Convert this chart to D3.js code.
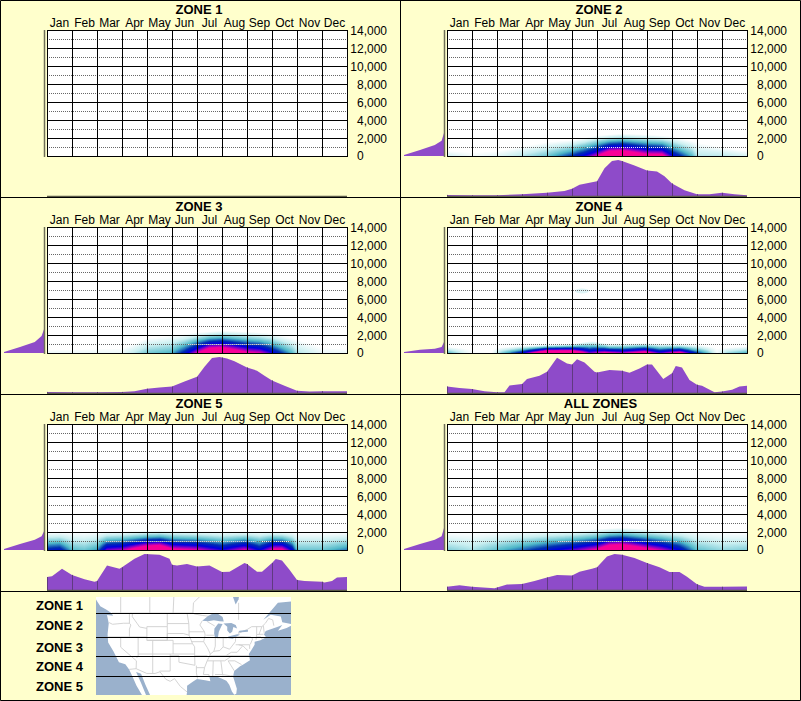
<!DOCTYPE html>
<html>
<head>
<meta charset="utf-8">
<script src="https://cdn.jsdelivr.net/npm/d3@7"></script>
<style>
  body { margin: 0; background: #ffffcc; }
  text { font-family: "Liberation Sans", Arial, sans-serif; font-size: 12px; fill: #000; }
  .title { font-size: 13px; font-weight: bold; }
</style>
</head>
<body>
<div id="chart"></div>
<script>
const months = ["Jan","Feb","Mar","Apr","May","Jun","Jul","Aug","Sep","Oct","Nov","Dec"];
const yTicks = [0,2000,4000,6000,8000,10000,12000,14000];
const dotTicks = [1000,3000,5000,7000,9000,11000,13000];
const zoneNames = ["ZONE 1","ZONE 2","ZONE 3","ZONE 4","ZONE 5"];

// bottom curves: [month position, percent of the peak]
const curve2 = [[0,3],[1,2],[2,2],[3,5],[4,9],[4.7,14],[5,20],[5.3,31],[6,41],[6.3,77],[6.6,97],[6.85,100],[7,97],[7.5,85],[8,71],[8.4,68],[8.7,55],[9,35],[9.5,16],[10,5],[10.5,5],[11,9],[11.5,5],[12,2]];
const curve3 = [[0,3],[1,2],[2,2],[3,3],[3.5,5],[4,12],[4.5,15],[5,18],[5.5,32],[6,45],[6.3,73],[6.6,97],[6.9,100],[7.2,96],[7.5,88],[8,71],[8.4,62],[8.7,48],[9,35],[9.5,20],[10,6],[10.5,4],[11,5],[12,5]];
const curve4 = [[0,18],[0.5,14],[1,11],[1.5,5],[2,2],[2.3,2],[2.5,21],[3,25],[3.2,39],[3.7,48],[4,59],[4.4,98],[4.8,82],[5,79],[5.2,94],[5.5,85],[5.9,59],[6,57],[6.5,64],[7,62],[7.3,56],[7.7,68],[8,79],[8.2,79],[8.65,39],[9,55],[9.15,75],[9.4,71],[9.7,36],[10,23],[10.2,20],[10.7,2],[11,4],[11.4,9],[11.7,18],[12,20]];
const curve5 = [[0,36],[0.2,38],[0.6,59],[1,42],[1.5,30],[1.9,23],[2,25],[2.4,68],[2.9,59],[3,63],[3.5,87],[3.9,100],[4.5,98],[4.9,87],[5,70],[5.2,68],[5.6,72],[6,65],[6.5,68],[7,50],[7.3,51],[7.9,75],[8,72],[8.4,51],[8.6,51],[9,75],[9.15,86],[9.4,82],[9.7,56],[10,28],[10.3,25],[11,23],[11.1,21],[11.4,25],[11.6,35],[12,36]];
const curveAll = [[0,9],[0.5,13],[1,9],[1.9,5],[2.4,15],[3,17],[3.5,25],[4,35],[4.4,42],[5,40],[5.3,51],[5.8,59],[6,63],[6.4,93],[6.7,100],[7,98],[7.5,89],[8,75],[8.5,63],[8.9,50],[9.3,50],[9.6,37],[10,16],[10.3,9],[11,9],[12,10]];

// left profiles: [elevation, percent of the widest]
const profile2 = [[0,100],[100,100],[666,60],[1220,23],[1700,6],[2550,0]];
const profile3 = [[0,100],[100,100],[666,60],[1220,23],[1900,6],[2650,0]];
const profile4 = [[0,100],[100,100],[370,60],[480,23],[666,6],[1220,0]];
const profile5 = [[0,100],[100,100],[666,60],[1150,23],[1520,6],[2070,0]];
const profileAll = [[0,100],[100,100],[666,60],[1150,23],[1520,6],[2450,0]];

// density: how high the colour reaches per month, and its strength at the ground
const top2 = [[0,600],[1,500],[2,600],[3,1100],[4,1600],[5,1800],[6,2300],[7,2500],[8,2400],[9,2200],[10,1600],[11,1000],[12,600]];
const peak2 = [[0,.16],[1,.05],[2,.1],[3,.22],[4,.35],[5,.6],[5.5,.75],[6,.95],[6.5,1.25],[7,1.28],[8,1.05],[8.6,1.05],[9,.75],[9.8,.4],[10,.22],[11,.22],[12,.14]];
const top3 = [[0,400],[3,600],[3.5,1100],[4,1700],[5,2000],[6,2300],[7,2500],[8,2400],[9,2200],[10,1600],[11,700],[12,500]];
const peak3 = [[0,.08],[3,.08],[4,.34],[5,.42],[5.5,.65],[6,.95],[6.5,1.25],[7,1.28],[8,1],[8.5,.95],[9,.75],[9.8,.4],[10,.24],[11,.08],[12,.08]];
const top4 = [[0,700],[1,500],[2,600],[3,800],[4,900],[5,1000],[5.8,1350],[6.5,1000],[7.9,1100],[8.8,1000],[10,900],[11,600],[12,750]];
const peak4 = [[0,.42],[.7,.12],[1,.03],[1.8,.02],[2.2,.32],[3,.7],[4,1.35],[5,1.3],[5.7,.85],[6.3,1],[7,.9],[7.9,1.1],[8.5,.8],[9.3,1.05],[9.8,.7],[10.4,.38],[10.8,.05],[11.2,.26],[12,.42]];
const top5 = [[0,2000],[3,2100],[4.5,2200],[7,2100],[9,2100],[10,2000],[12,2000]];
const peak5 = [[0,.64],[.5,.68],[1,.4],[1.5,.36],[2,.46],[2.4,.85],[3,.9],[4,1.22],[4.5,1.27],[5,1.02],[6,.96],[7,.76],[7.9,.96],[8.5,.72],[9.1,1.02],[9.4,1.02],[9.8,.72],[10,.36],[11,.36],[12,.5]];
const topAll = [[0,2000],[5,2200],[7,2500],[9,2200],[12,2000]];
const peakAll = [[0,.32],[1,.24],[2,.38],[3,.52],[4,.68],[5,.82],[6,1],[6.5,1.25],[7,1.28],[8,1.05],[8.6,.92],[9.3,.72],[10,.38],[11,.28],[12,.32]];

// small faint patch high up in zone 4: month, elevation
const patch4 = [[5.4,6900]];

const colorStops = [0,.18,.4,.58,.72,.84,.95,1];
const colorValues = ["#ffffff","#c8eef0","#50b8c8","#0030b0","#0000e0","#8000c8","#f000a0","#ff0090"];

// map outlines, lon/lat
const land = [[-130,55],[-127,51],[-125,50],[-123.2,49],[-122.6,48.2],[-124.7,48.4],[-124.1,46],[-124.5,42.8],[-124.3,40.4],[-122.5,37.8],[-120.6,34.6],[-118.4,34],[-117.1,32.5],[-116,30.5],[-114.6,27.8],[-112.7,25],[-110.5,22.9],[-111.3,25],[-113,28.5],[-114.7,31.7],[-113,31.2],[-111.5,28],[-109.9,25],[-106,22.5],[-105,20],[-95,16],[-90,18],[-97.8,22],[-97.2,26],[-97.2,27.7],[-95,29],[-93.8,29.7],[-91,29.3],[-89.2,29],[-89.5,30.3],[-87,30.4],[-85,29.7],[-83.7,29.2],[-82.7,28],[-81.8,26],[-81,25.1],[-80.3,25.4],[-80.1,26.8],[-81.4,30.4],[-81,32],[-79,33.4],[-77.9,33.9],[-75.6,35.2],[-76,37],[-75.2,38],[-74,39.7],[-74,40.6],[-72,41],[-70.7,41.6],[-70,41.8],[-70.8,42.7],[-70.2,43.7],[-68,44.4],[-66,45],[-64.5,45.5],[-66,43.8],[-63,44.6],[-60,46],[-61.5,45.8],[-64.5,46.3],[-65,48],[-68.5,48.5],[-71,47],[-66,52],[-60,52.5],[-56,53],[-60,56],[-65,60],[-130,60]];
const lakes = [
  [[-82,55],[-80.5,51.5],[-79.5,53],[-79,56]],
  [[-92,46.7],[-90,46.6],[-88,46.9],[-86,46.6],[-84.6,46.5],[-85,47.8],[-86.5,48.7],[-88.5,48.8],[-90,48.1]],
  [[-87.6,41.7],[-86.6,41.8],[-86.3,43.5],[-85.5,45],[-85,45.8],[-86.5,45.9],[-87.8,44.5],[-87.9,43]],
  [[-84.7,45.9],[-83.4,45],[-83.4,43.9],[-82.5,43],[-81.7,43.5],[-81.3,44.9],[-80,44.5],[-80.5,45.5],[-82,46.1]],
  [[-83.4,41.7],[-81.5,41.5],[-79,42.7],[-80,42.8],[-83,42.1]],
  [[-79.7,43.3],[-76.3,43.5],[-76.3,44.1],[-79.2,43.8]]
];
const borders = [
  [[-123,49],[-116,49],[-110,49],[-104,49],[-95.2,49],[-94.6,48.7],[-92,48.3],[-89.5,48]],
  [[-79.7,43],[-76.5,44.2],[-75,45],[-71.5,45],[-70.3,46],[-69.2,47.4],[-67.8,47],[-67.4,45.3]],
  [[-117.1,32.5],[-114.7,32.7],[-111,31.3],[-108.2,31.3],[-106.5,31.8],[-104.5,29.6],[-103,29],[-101.5,29.8],[-99.5,27.5],[-97.2,25.9]],
  [[-110,49],[-110,60]],[[-102,49],[-101.4,60]],[[-120,49],[-120,60]],[[-95.2,49],[-95,52],[-89,57]],[[-79.5,47],[-79.5,52]],
  [[-124,46.2],[-122.8,45.7],[-119,46],[-117,46]],[[-117,49],[-117,46],[-116.5,45.5],[-117,44.3],[-117,42]],
  [[-124.3,42],[-120,42],[-114,42],[-111,42]],[[-120,42],[-120,39],[-114.6,35],[-114.7,32.7]],[[-114,42],[-114,36.2],[-114.6,36]],
  [[-116,49],[-116,47.9],[-114.4,46],[-113.5,44.9],[-111,44.5]],[[-111,45],[-104,45]],[[-111,45],[-111,41],[-104,41],[-104,45]],
  [[-111,41],[-109,41],[-109,37]],[[-114,37],[-109,37],[-103,37],[-94.6,37]],[[-109,41],[-102,41],[-102,37]],[[-109,37],[-109,31.3]],
  [[-103,37],[-103,32],[-106.6,32]],[[-103,36.5],[-100,36.5],[-100,34.6],[-94.5,33.7]],[[-94.6,37],[-94.5,33.7]],[[-94,33.6],[-94,31.5],[-93.6,29.8]],
  [[-94,33],[-91.2,33]],[[-104,49],[-104,45]],[[-104,45.9],[-96.6,45.9]],[[-104,43],[-98.5,43],[-96.5,42.5]],[[-104,43],[-104,41]],[[-102,40],[-95.3,40]],
  [[-94.6,39.1],[-94.6,37]],[[-96.6,45.9],[-96.5,42.5],[-95.3,40],[-94.6,39.1]],[[-97.2,49],[-96.6,45.9]],[[-96.5,43.5],[-91.2,43.5]],[[-95.8,40.6],[-91.5,40.6]],
  [[-92,46.7],[-92.8,45.5],[-91.2,43.5],[-91,42.5],[-91.5,40.6],[-90.2,38.8],[-89.2,37],[-89.7,36],[-90.3,35],[-91.2,33],[-91.6,31],[-89.7,31],[-89.6,30.2]],
  [[-94.6,36.5],[-90.2,36.5]],[[-90.6,42.5],[-87.8,42.5]],[[-90.3,46.5],[-87.7,45.2]],[[-87.5,41.7],[-87.5,39.3],[-88,37.8]],[[-84.8,41.7],[-84.8,39.1]],[[-87,41.7],[-83.4,41.7]],
  [[-89.2,37],[-88,37.8],[-86,38],[-84.8,39.1],[-82.6,38.4],[-80.6,40.6],[-80.5,42]],[[-80.5,42.2],[-75.3,42],[-74.7,41.4],[-75.5,39.8]],[[-80.5,39.7],[-75.7,39.7]],[[-75.7,38.5],[-75.7,39.7]],
  [[-79.5,39.7],[-78,39.4],[-77,38.5],[-76.3,38]],[[-82,37.5],[-80,37.5],[-78.2,39.3]],[[-89.5,36.5],[-75.9,36.5]],[[-83.7,36.6],[-82,37.5]],[[-90.3,35],[-84.3,35]],[[-84.3,35],[-81.7,36.5]],
  [[-83.1,35],[-80.8,35],[-78.5,33.9]],[[-83.1,35],[-81,32.1]],[[-85.6,35],[-85,31],[-84.9,30.7]],[[-88.2,35],[-88.4,30.3]],[[-87.6,31],[-85,31],[-82.2,30.6],[-81.5,30.7]],
  [[-73.3,45],[-73.3,42.7],[-73.5,41.2]],[[-73.3,42.7],[-70.9,42.8]],[[-73.5,42],[-71.8,42],[-71.4,41.4]],[[-71.5,45],[-72.5,42.7]],[[-71,45.3],[-70.7,43.1]]
];

const panels = [
  {title:"ZONE 1", col:0, row:0, curve:[], profile:[], top:null, peak:null, patch:[]},
  {title:"ZONE 2", col:1, row:0, curve:curve2, profile:profile2, top:top2, peak:peak2, patch:[]},
  {title:"ZONE 3", col:0, row:1, curve:curve3, profile:profile3, top:top3, peak:peak3, patch:[]},
  {title:"ZONE 4", col:1, row:1, curve:curve4, profile:profile4, top:top4, peak:peak4, patch:patch4},
  {title:"ZONE 5", col:0, row:2, curve:curve5, profile:profile5, top:top5, peak:peak5, patch:[]},
  {title:"ALL ZONES", col:1, row:2, curve:curveAll, profile:profileAll, top:topAll, peak:peakAll, patch:[]}
];

const svg = d3.select("#chart").append("svg")
  .attr("width", 801).attr("height", 701)
  .style("display", "block");

svg.append("rect").attr("width", 801).attr("height", 701).attr("fill", "#ffffcc");

const xScale = d3.scaleLinear().domain([0,12]).range([47,347]);
const monthBand = d3.scaleBand().domain(months).range([47,347]);
const yScale = d3.scaleLinear().domain([0,14000]).range([156,30]);
const curveY = d3.scaleLinear().domain([0,100]).range([196,160]);
const profileX = d3.scaleLinear().domain([0,100]).range([44,4]);
const heatColor = d3.scaleLinear().domain(colorStops).range(colorValues).clamp(true);

const samples = d3.range(0, 12.01, 0.05);
const levels = d3.range(0.02, 1.0, 0.02);

function lookup(pairs) {
  return d3.scaleLinear().domain(pairs.map(d => d[0])).range(pairs.map(d => d[1]));
}

function drawHeat(g, p) {
  const topAt = lookup(p.top), peakAt = lookup(p.peak);
  const isoline = level => m => {
    const pk = peakAt(m);
    return pk <= level ? 0 : topAt(m) * (1 - level / pk);
  };
  levels.forEach(level => {
    const iso = isoline(level);
    const area = d3.area()
      .x(m => xScale(m))
      .y0(yScale(0))
      .y1(m => yScale(iso(m)));
    g.append("path").attr("d", area(samples)).attr("fill", heatColor(level));
  });
  p.patch.forEach(d => {
    g.append("ellipse")
      .attr("cx", xScale(d[0])).attr("cy", yScale(d[1]))
      .attr("rx", 7).attr("ry", 2.5).attr("fill", "#dff4f6");
  });
}

function drawPanel(p) {
  const g = svg.append("g")
    .attr("transform", `translate(${p.col*400}, ${p.row*197})`);

  g.append("text").attr("class", "title")
    .attr("x", p.title === "ALL ZONES" ? 200.5 : 199)
    .attr("y", 14).attr("text-anchor", "middle").text(p.title);

  g.append("rect").attr("x", 47).attr("y", 30).attr("width", 300).attr("height", 126).attr("fill", "#fff");

  if (p.top) drawHeat(g, p);

  // dotted odd thousands
  g.selectAll(".dot").data(dotTicks).join("line")
    .attr("x1", 47).attr("x2", 347)
    .attr("y1", d => yScale(d)+0.5).attr("y2", d => yScale(d)+0.5)
    .attr("stroke", "#666").attr("stroke-dasharray", "1 1");

  // the 1,000 dots turn white over the strong colours
  if (p.top) {
    const topAt = lookup(p.top), peakAt = lookup(p.peak);
    const strong = m => peakAt(m) * (1 - 1000 / topAt(m)) > 0.4;
    const line = d3.line().defined(strong).x(m => xScale(m)).y(yScale(1000)+0.5);
    g.append("path").attr("d", line(samples)).attr("fill", "none")
      .attr("stroke", "#fff").attr("stroke-dasharray", "1 1");
  }

  // solid grid
  g.selectAll(".hgrid").data(yTicks).join("line")
    .attr("x1", 47).attr("x2", 348)
    .attr("y1", d => yScale(d)+0.5).attr("y2", d => yScale(d)+0.5)
    .attr("stroke", "#000");
  g.selectAll(".vgrid").data(d3.range(0,13)).join("line")
    .attr("x1", d => xScale(d)+0.5).attr("x2", d => xScale(d)+0.5)
    .attr("y1", 30).attr("y2", 157)
    .attr("stroke", "#000");

  // month labels
  g.append("g").attr("transform", "translate(0,27)")
    .call(d3.axisTop(monthBand).tickSize(0).tickPadding(0))
    .call(s => s.select(".domain").remove())
    .selectAll("text").attr("y", 0).attr("dy", 0).style("font-size", "12px")
      .style("font-family", '"Liberation Sans", Arial, sans-serif');

  // elevation labels
  g.append("g").attr("transform", "translate(387,0)")
    .call(d3.axisRight(yScale).tickValues(yTicks).tickFormat(d3.format(",")).tickSize(0).tickPadding(0))
    .call(s => s.select(".domain").remove())
    .selectAll("text")
      .attr("text-anchor", d => d === 0 ? "start" : "end")
      .attr("x", d => d === 0 ? -30 : 0)
      .attr("dy", d => d === 0 ? "0.25em" : "0.4em")
      .style("font-size", "12px")
      .style("font-family", '"Liberation Sans", Arial, sans-serif');

  // left profile
  const profileArea = d3.area()
    .x0(profileX(0)).x1(d => profileX(d[1]))
    .y(d => yScale(d[0]));
  if (p.profile.length) g.append("path").attr("d", profileArea(p.profile)).attr("fill", "#8e4bc9");
  g.append("line").attr("x1", 44.5).attr("x2", 44.5).attr("y1", 30).attr("y2", 157)
    .attr("stroke", "#6e6e58").attr("stroke-width", 1.5);

  // bottom curve
  if (p.curve.length) {
    const curveAt = lookup(p.curve);
    const area = d3.area().x(d => xScale(d[0])).y0(curveY(0)).y1(d => curveY(d[1]));
    g.append("path").attr("d", area(p.curve)).attr("fill", "#8e4bc9");
    g.selectAll(".mline").data(d3.range(0,12)).join("line")
      .attr("x1", d => xScale(d)+0.5).attr("x2", d => xScale(d)+0.5)
      .attr("y1", curveY(0)).attr("y2", d => curveY(curveAt(d)))
      .attr("stroke", "#5f3a80");
  }
  g.append("line").attr("x1", 47).attr("x2", 347).attr("y1", 196.5).attr("y2", 196.5)
    .attr("stroke", "#5c5c48").attr("stroke-width", 1.5);
}

// map first, frame lines go over it
function drawMap() {
  const g = svg.append("g");
  svg.append("clipPath").attr("id", "mapclip").append("rect")
    .attr("x", 96).attr("y", 597).attr("width", 195).attr("height", 98);
  g.attr("clip-path", "url(#mapclip)");
  g.append("rect").attr("x", 96).attr("y", 597).attr("width", 195).attr("height", 98).attr("fill", "#9ab1cc");

  const lonX = d3.scaleLinear().domain([-124.7,-67]).range([107,275]);
  const latY = d3.scaleLinear().domain([49,25]).range([613,695]);
  const line = d3.line().x(d => lonX(d[0])).y(d => latY(d[1]));

  g.append("path").attr("d", line(land)+"Z").attr("fill", "#fff");
  g.selectAll(".border").data(borders).join("path")
    .attr("d", line).attr("fill", "none").attr("stroke", "#cfcfcf").attr("stroke-width", 0.9);
  g.selectAll(".lake").data(lakes).join("path")
    .attr("d", d => line(d)+"Z").attr("fill", "#9ab1cc");

  [613.5,637.5,656.5,676.5].forEach(y => {
    g.append("line").attr("x1", 96).attr("x2", 291).attr("y1", y).attr("y2", y)
      .attr("stroke", "#000").attr("stroke-width", 1);
  });

  const labelY = d3.scaleOrdinal().domain(zoneNames).range([610,630,652,671,691]);
  svg.selectAll(".zlabel").data(zoneNames).join("text").attr("class", "title")
    .attr("x", 83).attr("y", d => labelY(d)).attr("text-anchor", "end").text(d => d);
}

panels.forEach(drawPanel);
drawMap();

// frame
[[0.5,0.5,800.5,0.5],[0.5,700.5,800.5,700.5],[0.5,0.5,0.5,700.5],[800.5,0.5,800.5,700.5],
 [400.5,0.5,400.5,591.5],[0.5,197.5,800.5,197.5],[0.5,394.5,800.5,394.5],[0.5,591.5,800.5,591.5]].forEach(d => {
  svg.append("line").attr("x1", d[0]).attr("y1", d[1]).attr("x2", d[2]).attr("y2", d[3]).attr("stroke", "#000");
});
</script>
</body>
</html>
